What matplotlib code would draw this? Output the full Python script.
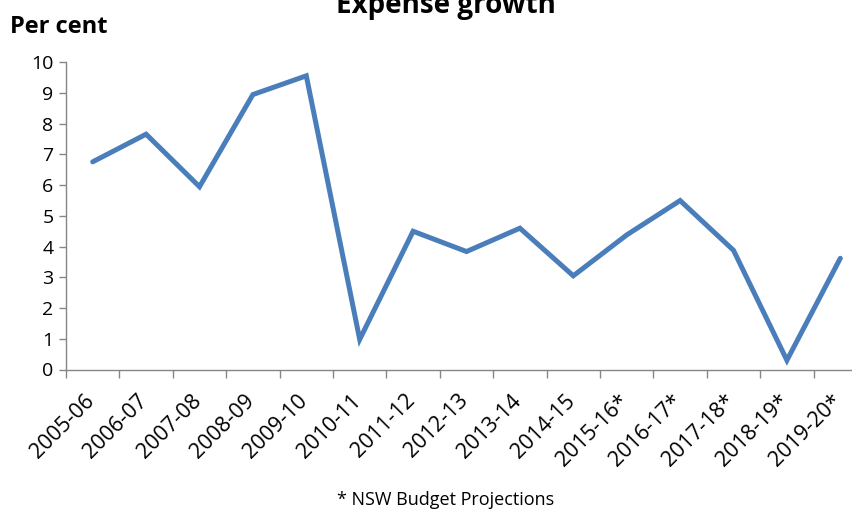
import matplotlib
matplotlib.use("Agg")
import matplotlib.pyplot as plt
import matplotlib.transforms as mtransforms
import numpy as np

categories = ["2005-06", "2006-07", "2007-08", "2008-09", "2009-10", "2010-11",
              "2011-12", "2012-13", "2013-14", "2014-15", "2015-16*", "2016-17*",
              "2017-18*", "2018-19*", "2019-20*"]
values = [6.76, 7.66, 5.95, 8.95, 9.56, 0.98, 4.5, 3.84, 4.6, 3.05, 4.38, 5.5, 3.88, 0.3, 3.62]
yticks = list(range(0, 11))

plt.rcParams['font.family'] = ['Open Sans', 'DejaVu Sans']

W, H = 853, 509
fig = plt.figure(figsize=(W / 100, H / 100), dpi=100)
left = 66 / W
bottom = (H - 369.5) / H
height = (369.5 - 62.3) / H
width = 15 * 53.4 / W
ax = fig.add_axes([left, bottom, width, height])

x = np.arange(len(categories))
ax.plot(x, values, color="#4A7EBB", lw=3.6, solid_joinstyle='miter', solid_capstyle='round')

ax.set_xlim(-0.5, len(categories) - 0.5)
ax.set_ylim(0, 10)
ax.set_yticks(yticks)
ax.set_yticklabels([str(v) for v in yticks], fontsize=14)

ax.set_xticks(np.arange(-0.5, len(categories), 1.0))
ax.set_xticklabels([])
ax.set_xticks(x, minor=True)
ax.set_xticklabels(categories, minor=True, rotation=45, ha='right',
                   rotation_mode='anchor', fontsize=15.5)
ax.tick_params(axis='x', which='minor', length=0, pad=15)
ax.tick_params(axis='x', which='major', length=6, color='#868686', width=1)
ax.tick_params(axis='y', length=5, color='#868686', width=1, pad=4)

offset = mtransforms.ScaledTranslation(-0.09, 0, fig.dpi_scale_trans)
for lbl in ax.get_xticklabels(minor=True):
    lbl.set_transform(lbl.get_transform() + offset)

for s in ['top', 'right']:
    ax.spines[s].set_visible(False)
for s in ['left', 'bottom']:
    ax.spines[s].set_color('#868686')
    ax.spines[s].set_linewidth(1)

fig.text(10 / W, 1 - 33 / H, "Per cent", fontsize=17, fontweight='bold', va='baseline', ha='left')
fig.text(446 / W, 1 - 13 / H, "Expense growth", fontsize=20, fontweight='bold', va='baseline', ha='center')
fig.text(446 / W, 1 - 505 / H, "* NSW Budget Projections", fontsize=13, va='baseline', ha='center')

fig.savefig("out.png", dpi=100)
